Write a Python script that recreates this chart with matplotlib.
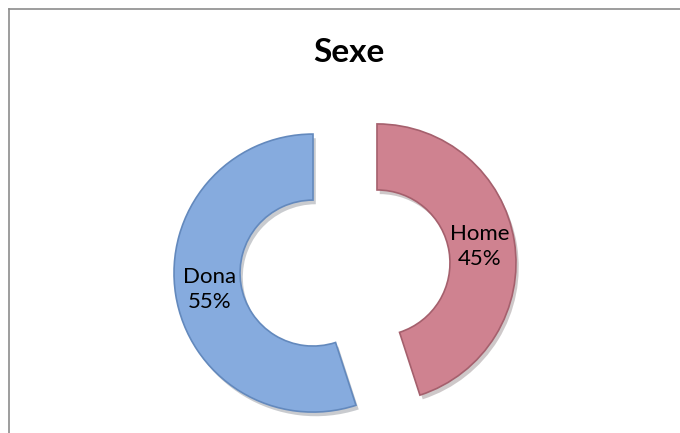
import matplotlib.pyplot as plt
import matplotlib.patheffects as pe
from matplotlib.lines import Line2D

# data
categories = ['Home', 'Dona']
values = [45, 55]
colors = ['#cf8290', '#86abde']
edges = ['#a5606d', '#6389bd']
title = 'Sexe'

plt.rcParams['font.family'] = ['Lato', 'DejaVu Sans']

W, H = 680, 433
fig = plt.figure(figsize=(W / 100, H / 100), dpi=100)
ax = fig.add_axes([0, 0, 1, 1])

# pixel layout of the donut
cx, cy, R = 345, 268, 139

total = sum(values)
labels = ['%s\n%d%%' % (c, round(v * 100 / total)) for c, v in zip(categories, values)]

wedges, texts = ax.pie(values, labels=labels, colors=colors, startangle=90,
                       counterclock=False, explode=[0.233, 0.233], radius=1,
                       labeldistance=0.75,
                       wedgeprops=dict(width=0.475, linewidth=1.2),
                       textprops=dict(ha='center', va='center', fontsize=16,
                                      linespacing=1.3, color='black'))
ax.set_xlim(-cx / R, (W - cx) / R)
ax.set_ylim(-(H - cy) / R, cy / R)
ax.axis('off')

for w, ec in zip(wedges, edges):
    w.set_edgecolor(ec)
    w.set_path_effects([pe.SimplePatchShadow(offset=(2, -3), alpha=0.25),
                        pe.Normal()])

fig.text(349 / W, 1 - 52 / H, title, ha='center', va='center',
         fontsize=24, fontweight='bold')

# chart frame (cut off at right and bottom)
fig.add_artist(Line2D([8.5 / W, 1.0], [1 - 8.5 / H, 1 - 8.5 / H],
                      transform=fig.transFigure, color='#8c8c8c', lw=1.2))
fig.add_artist(Line2D([8.5 / W, 8.5 / W], [0.0, 1 - 8.5 / H],
                      transform=fig.transFigure, color='#8c8c8c', lw=1.2))

fig.savefig('out.png', dpi=100)
